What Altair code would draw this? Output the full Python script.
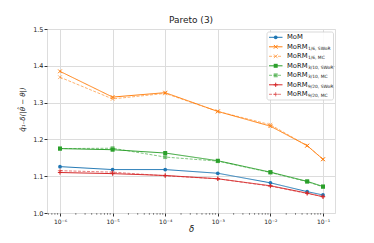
import altair as alt
import pandas as pd

deltas = [1e-6, 1e-5, 1e-4, 1e-3, 1e-2, 5e-2, 1e-1]
mom = [1.126, 1.118, 1.118, 1.108, 1.082, 1.058, 1.049]
morm16_swor = [1.385, 1.315, 1.327, 1.276, 1.236, 1.183, 1.146]
morm16_mc = [1.369, 1.310, 1.325, 1.276, 1.240, 1.183, 1.146]
morm310_swor = [1.175, 1.172, 1.163, 1.142, 1.111, 1.086, 1.072]
morm310_mc = [1.175, 1.176, 1.152, 1.141, 1.110, 1.085, 1.071]
morm920_swor = [1.110, 1.107, 1.102, 1.093, 1.074, 1.054, 1.044]
morm920_mc = [1.115, 1.111, 1.101, 1.093, 1.073, 1.053, 1.045]

x_ticks = [1e-6, 1e-5, 1e-4, 1e-3, 1e-2, 1e-1]
y_ticks = [1.0, 1.1, 1.2, 1.3, 1.4, 1.5]
minor_ticks = [m * 10.0 ** k for k in range(-7, 0) for m in range(2, 10)
               if 10 ** -6.247 <= m * 10.0 ** k <= 10 ** -0.772]

BLUE, ORANGE, GREEN, RED = "#1f77b4", "#ff7f0e", "#2ca02c", "#d62728"
XPATH = "M-1,-1L1,1M-1,1L1,-1"
PLUS = "M-1,0L1,0M0,-1L0,1"

series = [
    # main label, sub, values, color, dash, opacity, shape, filled, size
    ("MoM", "", mom, BLUE, [1, 0], 1.0, "circle", True, 14),
    ("MoRM", "1/6, SWoR", morm16_swor, ORANGE, [1, 0], 1.0, XPATH, False, 14),
    ("MoRM", "1/6, MC", morm16_mc, ORANGE, [3, 1.5], 0.6, XPATH, False, 14),
    ("MoRM", "3/10, SWoR", morm310_swor, GREEN, [1, 0], 1.0, "square", True, 16),
    ("MoRM", "3/10, MC", morm310_mc, GREEN, [3, 1.5], 0.6, "square", True, 16),
    ("MoRM", "9/20, SWoR", morm920_swor, RED, [1, 0], 1.0, PLUS, False, 18),
    ("MoRM", "9/20, MC", morm920_mc, RED, [3, 1.5], 0.6, PLUS, False, 18),
]

FONT = "DejaVu Sans"
xscale = alt.Scale(type="log", domain=[10 ** -6.247, 10 ** -0.772], nice=False)
yscale = alt.Scale(domain=[1.0, 1.5], nice=False, zero=False)

label_expr = ("'10' + ['⁰','⁻¹','⁻²','⁻³','⁻⁴','⁻⁵','⁻⁶'][round(-log(datum.value)/LN10)]")

xaxis = alt.Axis(values=x_ticks, labelExpr=label_expr, title="δ",
                 titleFontStyle="italic", titleFontSize=8.5,
                 titleFontWeight="normal", titlePadding=0,
                 labelFontSize=6, labelPadding=2, tickSize=3,
                 labelOverlap=False,
                 grid=True, gridColor="#dcdcdc", gridWidth=1,
                 domain=False, tickColor="#333", labelColor="#222",
                 labelFont=FONT, titleFont=FONT, titleColor="#222")
yaxis = alt.Axis(values=y_ticks, tickCount=6, format=".1f",
                 title="q̂₁₋δ(|θ̂ − θ|)", titleFontStyle="italic",
                 titleFontSize=7, titleFontWeight="normal",
                 titleAngle=-90, titleX=-25, titleY=80,
                 titleAlign="center", titleBaseline="middle",
                 labelFontSize=6.5, labelPadding=1, tickSize=3,
                 labelOverlap=False,
                 grid=True, gridColor="#dcdcdc", gridWidth=1,
                 domain=False, tickColor="#333", labelColor="#222",
                 labelFont=FONT, titleFont=FONT, titleColor="#222")
xenc = alt.X("delta:Q", scale=xscale, axis=xaxis)
yenc = alt.Y("value:Q", scale=yscale, axis=yaxis)

layers = []
for i, (main, sub, vals, color, dash, op, shape, filled, size) in enumerate(series):
    df = pd.DataFrame({"delta": deltas, "value": vals})
    base = alt.Chart(df)
    line = base.mark_line(color=color, strokeDash=dash, opacity=op, strokeWidth=1).encode(
        x=xenc, y=yenc)
    pt = base.mark_point(shape=shape, filled=filled, color=color, opacity=op,
                         size=size, strokeWidth=1).encode(x=xenc, y=yenc)
    layers += [line, pt]

# minor ticks on the log axis
minor_df = pd.DataFrame({"delta": minor_ticks})
layers.append(alt.Chart(minor_df).mark_rule(color="#333", strokeWidth=0.6).encode(
    x=xenc, y=alt.value(184), y2=alt.value(185.8)))

# custom legend
one = pd.DataFrame({"k": [0]})
layers.append(alt.Chart(one).mark_rect(fill="white", stroke="#cccccc", strokeWidth=0.8,
                                        cornerRadius=2, opacity=0.9).encode(
    x=alt.value(220), x2=alt.value(286.5), y=alt.value(3), y2=alt.value(71)))
row_y0, row_dy = 8.3, 9.5
for i, (main, sub, vals, color, dash, op, shape, filled, size) in enumerate(series):
    ly = row_y0 + i * row_dy
    ldf = pd.DataFrame({"main": [main], "sub": [sub]})
    lb = alt.Chart(ldf)
    layers.append(lb.mark_rule(color=color, strokeDash=dash, opacity=op, strokeWidth=1).encode(
        x=alt.value(222), x2=alt.value(235.5), y=alt.value(ly)))
    layers.append(lb.mark_point(shape=shape, filled=filled, color=color, opacity=op,
                                size=size, strokeWidth=1).encode(
        x=alt.value(228.7), y=alt.value(ly)))
    layers.append(lb.mark_text(align="left", baseline="middle", fontSize=6.8, font=FONT,
                               color="#222").encode(
        x=alt.value(240), y=alt.value(ly), text="main:N"))
    if sub:
        layers.append(lb.mark_text(align="left", baseline="middle", fontSize=4.4, font=FONT,
                                   color="#222", dy=1.8).encode(
            x=alt.value(261), y=alt.value(ly), text="sub:N"))

chart = alt.layer(*layers).properties(
    width=288, height=184,
    title=alt.Title("Pareto (3)", fontSize=9, font=FONT, fontWeight="normal",
                    color="#222", anchor="middle", offset=1),
    padding={"left": 39, "top": 21, "right": 30, "bottom": 25},
    autosize=alt.AutoSizeParams(type="none"),
).configure_view(stroke="#333", strokeWidth=0.8).configure(background="white")

chart.save("out.html", embed_options={"renderer": "svg", "actions": False})
